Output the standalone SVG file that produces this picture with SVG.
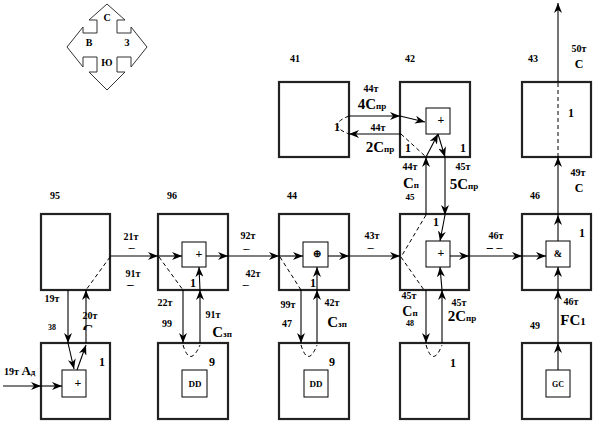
<svg xmlns="http://www.w3.org/2000/svg" width="596" height="424" viewBox="0 0 596 424">
<defs>
<marker id="a" viewBox="0 0 10 8" refX="10" refY="4" markerWidth="10" markerHeight="8" markerUnits="userSpaceOnUse" orient="auto"><path d="M0,0 L10,4 L0,8 L3,4 z" fill="#000"/></marker>
<clipPath id="c1"><rect x="120" y="243" width="30" height="6"/></clipPath>
<clipPath id="c2"><rect x="120" y="280" width="30" height="6"/></clipPath>
<clipPath id="c3"><rect x="236" y="244" width="30" height="6"/></clipPath>
<clipPath id="c4"><rect x="236" y="280" width="30" height="6"/></clipPath>
<clipPath id="c5"><rect x="360" y="243" width="30" height="6"/></clipPath>
<clipPath id="c6"><rect x="484" y="243" width="30" height="6"/></clipPath>
<clipPath id="c7"><rect x="76" y="324" width="30" height="6"/></clipPath>
</defs>
<style>
.box{fill:#fff;stroke:#222;stroke-width:2.2}
.in{fill:#fff;stroke:#000;stroke-width:1}
.ln{fill:none;stroke:#000;stroke-width:1.1}
.ar{fill:none;stroke:#000;stroke-width:1.1;marker-end:url(#a)}
.ds{fill:none;stroke:#000;stroke-width:1;stroke-dasharray:4,3}
text{font-family:"Liberation Serif","Times New Roman",serif;font-weight:bold;fill:#000}
.s{font-size:10px;text-anchor:middle}
.b{font-size:15px;text-anchor:middle}
.sub{font-size:9px}
.m{font-size:12px;text-anchor:middle}
</style>

<g id="compass">
<path d="M107,4 L125,20 L117,20 L117,33 L131,33 L131,27 L147,47 L131,67 L131,57 L117,57 L117,72 L125,72 L107,90 L89,72 L97,72 L97,57 L83,57 L83,67 L67,47 L83,27 L83,33 L97,33 L97,20 L89,20 Z" fill="#fff" stroke="#333" stroke-width="1"/>
<text class="s" x="107" y="21">С</text>
<text class="s" x="89" y="46">В</text>
<text class="s" x="127" y="46">З</text>
<text class="s" x="107" y="66">Ю</text>
</g>

<g id="n41"><rect class="box" x="279" y="82" width="70" height="75"/><text class="s" x="295" y="62">41</text><text class="m" x="337" y="131">1</text></g>
<g id="n42"><rect class="box" x="400" y="82" width="70" height="75"/><text class="s" x="410" y="62">42</text><rect class="in" x="426" y="108" width="24" height="26"/><text class="m" x="441" y="124">+</text><text class="m" x="408" y="152">1</text><text class="m" x="463" y="152">1</text></g>
<g id="n43"><rect class="box" x="522" y="82" width="69" height="75"/><text class="s" x="533" y="62">43</text><text class="m" x="571" y="117">1</text></g>

<g id="n95"><rect class="box" x="41" y="214" width="69" height="76"/><text class="s" x="55" y="199">95</text></g>
<g id="n96"><rect class="box" x="158" y="214" width="70" height="76"/><text class="s" x="172" y="199">96</text><rect class="in" x="182" y="242" width="24" height="25"/><text class="m" x="199" y="258">+</text><text class="m" x="193" y="287">1</text></g>
<g id="n44"><rect class="box" x="279" y="214" width="70" height="76"/><text class="s" x="292" y="199">44</text><rect class="in" x="303" y="242" width="25" height="25"/><text class="s" x="317" y="257">⊕</text><text class="m" x="313" y="287">1</text></g>
<g id="n45"><rect class="box" x="400" y="214" width="69" height="76"/><text class="s" x="410" y="200" style="font-size:9px">45</text><rect class="in" x="426" y="241" width="24" height="26"/><text class="m" x="441" y="257">+</text><text class="m" x="436" y="226">1</text></g>
<g id="n46"><rect class="box" x="522" y="214" width="69" height="76"/><text class="s" x="535" y="199">46</text><rect class="in" x="546" y="241" width="24" height="26"/><text class="s" x="558" y="257">&amp;</text><text class="m" x="582" y="237">1</text></g>

<g id="n38"><rect class="box" x="41" y="343" width="69" height="76"/><text class="s" x="52" y="330" style="font-size:8px">38</text><rect class="in" x="62" y="370" width="24" height="27"/><text class="m" x="78" y="387">+</text><text class="m" x="102" y="366">1</text></g>
<g id="n99"><rect class="box" x="158" y="343" width="70" height="76"/><text class="s" x="167" y="327">99</text><rect class="in" x="182" y="370" width="25" height="27"/><text class="s" x="195" y="387" style="font-size:9px">DD</text><text class="m" x="212" y="366">9</text></g>
<g id="n47"><rect class="box" x="279" y="343" width="70" height="76"/><text class="s" x="287" y="327">47</text><rect class="in" x="304" y="370" width="24" height="27"/><text class="s" x="316" y="387" style="font-size:9px">DD</text><text class="m" x="332" y="366">9</text></g>
<g id="n48"><rect class="box" x="400" y="343" width="69" height="76"/><text class="s" x="410" y="326" style="font-size:8px">48</text><text class="m" x="453" y="367">1</text></g>
<g id="n49"><rect class="box" x="522" y="343" width="69" height="76"/><text class="s" x="535" y="329">49</text><rect class="in" x="546" y="370" width="24" height="27"/><text class="s" x="558" y="387" style="font-size:8px">GC</text></g>

<g id="connectors">
<path class="ar" d="M110,256 H158"/>
<path class="ar" d="M158,256 H182"/>
<path class="ar" d="M206,256 H228"/>
<path class="ar" d="M228,256 H279"/>
<path class="ar" d="M279,256 H303"/>
<path class="ar" d="M328,256 H349"/>
<path class="ar" d="M349,256 H400"/>
<path class="ar" d="M450,256 H469"/>
<path class="ar" d="M469,256 H522"/>
<path class="ar" d="M522,256 H546"/>

<path class="ds" d="M110,257 L86,290"/>
<path class="ds" d="M159,257 L183,290"/>
<path class="ds" d="M280,257 L301,290"/>
<path class="ds" d="M426,215 L401,257 L424,290"/>
<path class="ds" d="M349,116 Q326,125 349,134"/>
<path class="ds" d="M401,134 L426,157"/>
<path class="ds" d="M558,157 V82"/>
<path class="ds" d="M183,345 Q190,368 200,345"/>
<path class="ds" d="M301,345 Q308,368 317,345"/>
<path class="ds" d="M426,345 Q433,368 442,345"/>

<path class="ar" d="M68,290 V343"/>
<path class="ar" d="M68,343 L74,369"/>
<path class="ar" d="M77,370 L86,345"/>
<path class="ar" d="M86,343 V290"/>
<path class="ar" d="M183,290 V343"/>
<path class="ar" d="M200,343 V290"/>
<path class="ar" d="M200,290 L199,267"/>
<path class="ar" d="M301,290 V343"/>
<path class="ar" d="M317,343 V290"/>
<path class="ar" d="M317,290 V267"/>
<path class="ar" d="M426,290 V343"/>
<path class="ar" d="M442,343 V290"/>
<path class="ar" d="M442,290 L440,267"/>
<path class="ar" d="M426,215 V157"/>
<path class="ar" d="M426,157 L438,134"/>
<path class="ar" d="M438,134 L445,157"/>
<path class="ar" d="M445,157 V215"/>
<path class="ar" d="M445,215 L440,241"/>
<path class="ar" d="M558,370 V343"/>
<path class="ar" d="M558,343 V290"/>
<path class="ar" d="M558,290 V267"/>
<path class="ar" d="M558,241 V215"/>
<path class="ar" d="M558,215 V157"/>
<path class="ar" d="M558,82 V3"/>
<path class="ar" d="M349,116 H400"/>
<path class="ar" d="M400,116 L425,122"/>
<path class="ar" d="M401,134 H349"/>
<path class="ar" d="M3,386 H41"/>
<path class="ar" d="M41,386 H62"/>
</g>

<g id="labels">
<text class="s" x="131" y="240">21т</text>
<text class="b" x="131" y="258" clip-path="url(#c1)">С</text>
<text class="s" x="133" y="277">91т</text>
<text class="b" x="131" y="295" clip-path="url(#c2)">Р</text>
<text class="s" x="248" y="239">92т</text>
<text class="b" x="250" y="259" clip-path="url(#c3)">Сп</text>
<text class="s" x="253" y="277">42т</text>
<text class="b" x="245" y="295" clip-path="url(#c4)">С</text>
<text class="s" x="372" y="239">43т</text>
<text class="b" x="370" y="258" clip-path="url(#c5)">С</text>
<text class="s" x="496" y="239">46т</text>
<text class="b" x="495" y="258" clip-path="url(#c6)">7С</text>

<text class="s" x="371" y="92">44т</text>
<text class="b" x="372" y="109">4С<tspan class="sub">пр</tspan></text>
<text class="s" x="378" y="131">44т</text>
<text class="b" x="380" y="152">2С<tspan class="sub">пр</tspan></text>
<text class="s" x="410" y="170">44т</text>
<text class="b" x="411" y="188">С<tspan class="sub">п</tspan></text>
<text class="s" x="463" y="170">45т</text>
<text class="b" x="464" y="189">5С<tspan class="sub">пр</tspan></text>

<text class="s" x="579" y="52">50т</text>
<text class="m" x="579" y="68">C</text>
<text class="s" x="578" y="176">49т</text>
<text class="m" x="579" y="192">C</text>

<text class="s" x="52" y="302">19т</text>
<text class="s" x="90" y="319">20т</text>
<text class="b" x="88" y="335" clip-path="url(#c7)">С</text>
<text class="s" x="165" y="306">22т</text>
<text class="s" x="213" y="318">91т</text>
<text class="b" x="222" y="337">С<tspan class="sub">зп</tspan></text>
<text class="s" x="288" y="308">99т</text>
<text class="s" x="332" y="306">42т</text>
<text class="b" x="337" y="327">С<tspan class="sub">зп</tspan></text>
<text class="s" x="409" y="299">45т</text>
<text class="b" x="410" y="316" style="font-size:14px">С<tspan class="sub">п</tspan></text>
<text class="s" x="459" y="306">45т</text>
<text class="b" x="462" y="321">2С<tspan class="sub">пр</tspan></text>
<text class="s" x="571" y="305">46т</text>
<text class="b" x="573" y="325">FC<tspan style="font-size:11px">1</tspan></text>
<text x="4" y="375" style="font-size:10px">19т <tspan style="font-size:13px">А</tspan><tspan class="sub">д</tspan></text>
</g>
</svg>
